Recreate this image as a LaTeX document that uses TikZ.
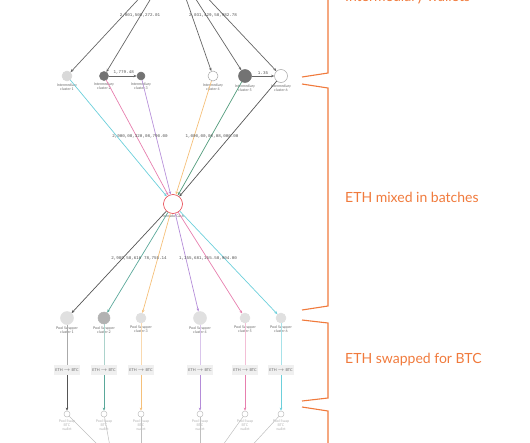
\documentclass[tikz,border=0pt]{standalone}
\usepackage{fontspec}
\setsansfont{Lato}
\setmonofont{Liberation Mono}
\usetikzlibrary{arrows.meta,positioning,calc}
\definecolor{brand}{HTML}{F07A3C}
\definecolor{mixred}{HTML}{E8404A}
\definecolor{cyanline}{HTML}{6CCFDB}
\definecolor{pinkline}{HTML}{E77FAE}
\definecolor{purpline}{HTML}{B48CD8}
\definecolor{orgline}{HTML}{F5C07A}
\definecolor{grnline}{HTML}{4F9A7A}
\definecolor{tealline}{HTML}{5AA89A}
\definecolor{darkline}{HTML}{555555}
\tikzset{wallet/.style={circle,draw=black!35,line width=0.5pt,inner sep=0pt}, clabel/.style={font=\sffamily\fontsize{3.6}{4}\selectfont,text=black!60,align=center,inner sep=1pt}, amt/.style={font=\ttfamily\fontsize{4.2}{5}\selectfont,text=black!70,inner sep=1pt}, flow/.style={-{Stealth[length=3.2pt,width=2.6pt]},line width=0.7pt}, swapbox/.style={fill=black!6,font=\sffamily\fontsize{3.8}{4}\selectfont,text=black!60,minimum width=26pt,minimum height=10pt,inner sep=0pt}, brace/.style={draw=brand,line width=1.1pt}, phase/.style={font=\sffamily\fontsize{14}{16}\selectfont,text=brand,anchor=west,inner sep=0pt}}

\begin{document}
\begin{tikzpicture}[x=1pt,y=-1pt]
\useasboundingbox (0,0) rectangle (530,442);
\clip (0,0) rectangle (530,442);
% intermediary wallets
\node[wallet,fill=black!15,draw=black!15,minimum size=10pt] (i1) at (67,76) {};
\node[wallet,fill=black!55,draw=black!55,minimum size=9pt] (i2) at (104,76) {};
\node[wallet,fill=black!55,draw=black!55,minimum size=8pt] (i3) at (141,76) {};
\node[wallet,fill=white,minimum size=10pt] (i4) at (213,76) {};
\node[wallet,fill=black!55,draw=black!55,minimum size=13pt] (i5) at (245,76) {};
\node[wallet,fill=white,minimum size=13pt] (i6) at (281,76) {};
\node[clabel,below=1pt of i1] {Intermediary\\cluster 1};
\node[clabel,below=1pt of i2] {Intermediary\\cluster 2};
\node[clabel,below=1pt of i3] {Intermediary\\cluster 3};
\node[clabel,below=1pt of i4] {Intermediary\\cluster 4};
\node[clabel,below=1pt of i5] {Intermediary\\cluster 5};
\node[clabel,below=1pt of i6] {Intermediary\\cluster 6};
% sources above the picture
\coordinate (t1) at (147,-10);
\coordinate (t2) at (156,-10);
\coordinate (t4) at (183,-10);
\coordinate (t5) at (190,-10);
\coordinate (t6) at (200,-10);
\draw[flow,draw=black!60] (t1)--(i1);
\draw[flow,draw=black!60] (t2)--(i2);
\draw[flow,draw=black!60] (t4)--(i4);
\draw[flow,draw=black!60] (t5)--(i5);
\draw[flow,draw=black!60] (t6)--(i6);
\node[amt] at (140,15) {2,001,508,272.01};
\node[amt] at (213,15) {2,031,429,58,982.78};
\draw[flow,draw=black!60] (i2)--node[amt,above,xshift=1pt]{1,779.48}(i3);
\draw[flow,draw=black!60] (i5)--node[amt,above]{1.35}(i6);
% mixer
\node[wallet,draw=mixred,fill=white,line width=0.6pt,minimum size=19pt] (mix) at (173,204) {};
\node[clabel,below=0pt of mix] {Tornado Cash};
\draw[flow,draw=cyanline] (i1)--(mix);
\draw[flow,draw=pinkline] (i2)--(mix);
\draw[flow,draw=purpline] (i3)--(mix);
\draw[flow,draw=orgline] (i4)--(mix);
\draw[flow,draw=grnline] (i5)--(mix);
\draw[flow,draw=darkline] (i6)--(mix);
\node[amt] at (140,136) {2,900,08,320,08,790.00};
\node[amt] at (212,136) {1,000,00,00,08,000.00};
% pool swappers
\node[wallet,fill=black!12,draw=black!12,minimum size=13pt] (p1) at (67,318) {};
\node[wallet,fill=black!30,draw=black!30,minimum size=12pt] (p2) at (104,318) {};
\node[wallet,fill=black!12,draw=black!12,minimum size=10pt] (p3) at (141,318) {};
\node[wallet,fill=black!12,draw=black!12,minimum size=13pt] (p4) at (200,318) {};
\node[wallet,fill=black!12,draw=black!12,minimum size=10pt] (p5) at (245,318) {};
\node[wallet,fill=black!12,draw=black!12,minimum size=10pt] (p6) at (281,318) {};
\node[clabel,below=1pt of p1] {Pool Swapper\\cluster 1};
\node[clabel,below=1pt of p2] {Pool Swapper\\cluster 2};
\node[clabel,below=1pt of p3] {Pool Swapper\\cluster 3};
\node[clabel,below=1pt of p4] {Pool Swapper\\cluster 4};
\node[clabel,below=1pt of p5] {Pool Swapper\\cluster 5};
\node[clabel,below=1pt of p6] {Pool Swapper\\cluster 6};
\draw[flow,draw=darkline] (mix)--(p1);
\draw[flow,draw=tealline] (mix)--(p2);
\draw[flow,draw=orgline] (mix)--(p3);
\draw[flow,draw=purpline] (mix)--(p4);
\draw[flow,draw=pinkline] (mix)--(p5);
\draw[flow,draw=cyanline] (mix)--(p6);
\node[amt] at (139,258) {2,989,58,616 78,755.14};
\node[amt] at (208,258) {1,155,681,155.58,904.00};
% swaps
\node[swapbox] (s1) at (67,370) {ETH $\to$ BTC};
\node[swapbox] (s2) at (104,370) {ETH $\to$ BTC};
\node[swapbox] (s3) at (141,370) {ETH $\to$ BTC};
\node[swapbox] (s4) at (200,370) {ETH $\to$ BTC};
\node[swapbox] (s5) at (245,370) {ETH $\to$ BTC};
\node[swapbox] (s6) at (281,370) {ETH $\to$ BTC};
\node[wallet,fill=white,draw=black!25,minimum size=6pt] (b1) at (67,414) {};
\node[wallet,fill=white,draw=black!25,minimum size=6pt] (b2) at (104,414) {};
\node[wallet,fill=white,draw=black!25,minimum size=6pt] (b3) at (141,414) {};
\node[wallet,fill=white,draw=black!25,minimum size=6pt] (b4) at (200,414) {};
\node[wallet,fill=white,draw=black!25,minimum size=6pt] (b5) at (245,414) {};
\node[wallet,fill=white,draw=black!25,minimum size=6pt] (b6) at (281,414) {};
\node[clabel,text=black!30,below=1pt of b1] {Pool Swap\\BTC\\wallet};
\node[clabel,text=black!30,below=1pt of b2] {Pool Swap\\BTC\\wallet};
\node[clabel,text=black!30,below=1pt of b3] {Pool Swap\\BTC\\wallet};
\node[clabel,text=black!30,below=1pt of b4] {Pool Swap\\BTC\\wallet};
\node[clabel,text=black!30,below=1pt of b5] {Pool Swap\\BTC\\wallet};
\node[clabel,text=black!30,below=1pt of b6] {Pool Swap\\BTC\\wallet};
\draw[line width=0.6pt,draw=darkline!50] (p1)--(s1);
\draw[line width=0.6pt,draw=tealline!50] (p2)--(s2);
\draw[line width=0.6pt,draw=orgline!60] (p3)--(s3);
\draw[line width=0.6pt,draw=purpline!50] (p4)--(s4);
\draw[line width=0.6pt,draw=pinkline!50] (p5)--(s5);
\draw[line width=0.6pt,draw=cyanline!60] (p6)--(s6);
\draw[flow,draw=darkline] (s1)--(b1);
\draw[flow,draw=tealline] (s2)--(b2);
\draw[flow,draw=orgline] (s3)--(b3);
\draw[flow,draw=purpline] (s4)--(b4);
\draw[flow,draw=pinkline] (s5)--(b5);
\draw[flow,draw=cyanline] (s6)--(b6);
% onward, below the picture
\coordinate (d1) at (105,452);
\coordinate (d2) at (111,452);
\coordinate (d3) at (141,452);
\coordinate (d4) at (200,452);
\coordinate (d5) at (218,452);
\coordinate (d6) at (246,452);
\draw[line width=0.5pt,draw=black!25] (b1)--(d1);
\draw[line width=0.5pt,draw=black!25] (b2)--(d2);
\draw[line width=0.5pt,draw=black!25] (b3)--(d3);
\draw[line width=0.5pt,draw=black!25] (b4)--(d4);
\draw[line width=0.5pt,draw=black!25] (b5)--(d5);
\draw[line width=0.5pt,draw=black!25] (b6)--(d6);
% phase brackets
\draw[brace] (328,-5)--(328,73)--(302,77);
\draw[brace] (302,84)--(328,88)--(328,306)--(302,310);
\draw[brace] (302,320)--(328,323)--(328,398)--(302,401);
\draw[brace] (302,407)--(328,411)--(328,450);
\node[phase] (ph1) at (345,-2) {Intermediary wallets};
\node[phase] (ph2) at (345,197) {ETH mixed in batches};
\node[phase] (ph3) at (345,360) {ETH swapped for BTC};
\end{tikzpicture}
\end{document}
